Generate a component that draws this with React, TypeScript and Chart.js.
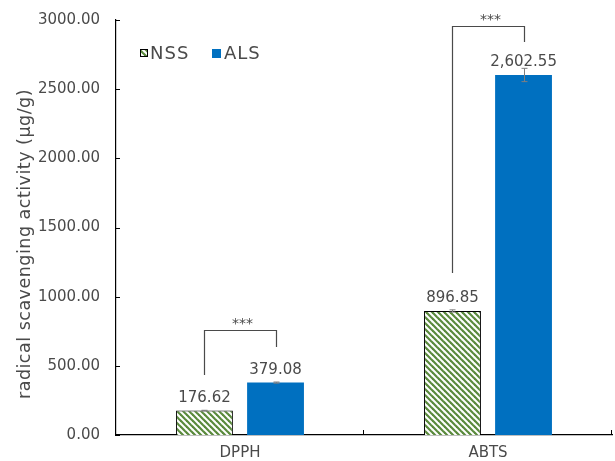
import React, { useEffect, useRef } from "react";
import { Chart, registerables } from "chart.js";

Chart.register(...registerables);

// Assay categories and series
const categories = ["DPPH", "ABTS"];
const nssValues = [176.62, 896.85];
const alsValues = [379.08, 2602.55];
const nssErrors = [2, 8];
const alsErrors = [4, 48];

// Y axis ticks
const yTicks = [0, 500, 1000, 1500, 2000, 2500, 3000];

// Significance brackets: [leftLegBottom, rightLegBottom, top] in data units
const brackets = [
  { index: 0, left: 434, right: 636, top: 759, label: "***" },
  { index: 1, left: 1171, right: 2841, top: 2957, label: "***" },
];

const FONT = "'DejaVu Sans', sans-serif";
const TEXT = "#4a4a4a";
const BLUE = "#0070C0";
const GREEN = "#5A8A3C";

function makeStripePattern(): CanvasPattern | string {
  const tile = document.createElement("canvas");
  tile.width = 6;
  tile.height = 6;
  const c = tile.getContext("2d");
  if (!c) return GREEN;
  c.fillStyle = "#ffffff";
  c.fillRect(0, 0, 6, 6);
  c.strokeStyle = GREEN;
  c.lineWidth = 2.2;
  for (const k of [-6, 0, 6]) {
    c.beginPath();
    c.moveTo(k - 1, -1);
    c.lineTo(k + 7, 7);
    c.stroke();
  }
  const p = c.createPattern(tile, "repeat");
  return p ?? GREEN;
}

const annotations = {
  id: "annotations",
  afterDatasetsDraw(chart: any) {
    const ctx: any = chart.ctx;
    const x = chart.scales.x;
    const y = chart.scales.y;
    const area = chart.chartArea;
    const nssMeta = chart.getDatasetMeta(0);
    const alsMeta = chart.getDatasetMeta(1);

    ctx.save();

    // inner tick marks on the axes
    ctx.strokeStyle = "#000";
    ctx.lineWidth = 1;
    for (const v of yTicks) {
      const py = Math.round(y.getPixelForValue(v)) + 0.5;
      ctx.beginPath();
      ctx.moveTo(area.left, py);
      ctx.lineTo(area.left + 4, py);
      ctx.stroke();
    }
    for (const v of [0.5, 1.5]) {
      const px = Math.round(x.getPixelForValue(v)) - 0.5;
      ctx.beginPath();
      ctx.moveTo(px, area.bottom);
      ctx.lineTo(px, area.bottom - 5);
      ctx.stroke();
    }

    // error bars
    ctx.strokeStyle = "#7f7f7f";
    ctx.lineWidth = 1;
    const drawErr = (meta: any, vals: number[], errs: number[]) => {
      meta.data.forEach((bar: any, i: number) => {
        const px = Math.round(bar.x) + 0.5;
        const hi = y.getPixelForValue(vals[i] + errs[i]);
        const lo = y.getPixelForValue(vals[i] - errs[i]);
        ctx.beginPath();
        ctx.moveTo(px, hi);
        ctx.lineTo(px, lo);
        ctx.moveTo(px - 3, hi);
        ctx.lineTo(px + 3, hi);
        ctx.moveTo(px - 3, lo);
        ctx.lineTo(px + 3, lo);
        ctx.stroke();
      });
    };
    drawErr(nssMeta, nssValues, nssErrors);
    drawErr(alsMeta, alsValues, alsErrors);

    // value labels
    ctx.fillStyle = TEXT;
    ctx.font = `15px ${FONT}`;
    ctx.textAlign = "center";
    ctx.textBaseline = "alphabetic";
    const fmt = (v: number) =>
      v.toLocaleString("en-US", { minimumFractionDigits: 2, maximumFractionDigits: 2 });
    const drawLabels = (meta: any, vals: number[]) => {
      meta.data.forEach((bar: any, i: number) => {
        ctx.fillText(fmt(vals[i]), bar.x, y.getPixelForValue(vals[i]) - 9);
      });
    };
    drawLabels(nssMeta, nssValues);
    drawLabels(alsMeta, alsValues);

    // significance brackets
    ctx.strokeStyle = TEXT;
    ctx.lineWidth = 1.2;
    for (const b of brackets) {
      const lx = Math.round(nssMeta.data[b.index].x) + 0.5;
      const rx = Math.round(alsMeta.data[b.index].x) + 0.5;
      const ty = Math.round(y.getPixelForValue(b.top)) + 0.5;
      ctx.beginPath();
      ctx.moveTo(lx, y.getPixelForValue(b.left));
      ctx.lineTo(lx, ty);
      ctx.lineTo(rx, ty);
      ctx.lineTo(rx, y.getPixelForValue(b.right));
      ctx.stroke();
      ctx.font = `14px ${FONT}`;
      ctx.fillStyle = TEXT;
      ctx.fillText(b.label, (lx + rx) / 2 + 2, ty - 3);
    }

    // legend
    ctx.textAlign = "left";
    ctx.textBaseline = "middle";
    ctx.font = `18px ${FONT}`;
    ctx.letterSpacing = "1px";
    ctx.fillStyle = chart.data.datasets[0].backgroundColor;
    ctx.fillRect(140, 49, 8, 8);
    ctx.strokeStyle = "#000";
    ctx.lineWidth = 1;
    ctx.strokeRect(140.5, 49.5, 7, 7);
    ctx.fillStyle = TEXT;
    ctx.fillText("NSS", 150, 54.5);
    ctx.fillStyle = BLUE;
    ctx.fillRect(212, 49, 9, 9);
    ctx.fillStyle = TEXT;
    ctx.fillText("ALS", 224, 54.5);

    // y axis title
    ctx.save();
    ctx.translate(25, 244);
    ctx.rotate(-Math.PI / 2);
    ctx.textAlign = "center";
    ctx.textBaseline = "middle";
    ctx.font = `17.5px ${FONT}`;
    ctx.letterSpacing = "0.5px";
    ctx.fillStyle = TEXT;
    ctx.fillText("radical scavenging activity (μg/g)", 0, 0);
    ctx.restore();

    ctx.letterSpacing = "0px";
    ctx.restore();
  },
};

export default function App() {
  const canvasRef = useRef<HTMLCanvasElement | null>(null);

  useEffect(() => {
    if (!canvasRef.current) return;
    const chart = new Chart(canvasRef.current, {
      type: "bar",
      data: {
        labels: categories,
        datasets: [
          {
            label: "NSS",
            data: nssValues,
            backgroundColor: makeStripePattern() as any,
            borderColor: "#000",
            borderWidth: 1,
            categoryPercentage: 0.573,
            barPercentage: 0.8,
          },
          {
            label: "ALS",
            data: alsValues,
            backgroundColor: BLUE,
            borderWidth: 0,
            categoryPercentage: 0.573,
            barPercentage: 0.8,
          },
        ],
      },
      options: {
        animation: false,
        responsive: true,
        maintainAspectRatio: false,
        layout: { padding: { top: 20, right: 3, left: 0, bottom: 0 } },
        plugins: {
          legend: { display: false },
          tooltip: { enabled: false },
        },
        scales: {
          x: {
            grid: { display: false, drawTicks: false },
            border: { display: true, color: "#000", width: 1.2 },
            ticks: { color: TEXT, font: { family: FONT, size: 15 }, padding: 9 },
            afterFit(scale: any) {
              scale.height = 26;
            },
          },
          y: {
            min: 0,
            max: 3000,
            grid: { display: false, drawTicks: false },
            border: { display: true, color: "#000", width: 1.2 },
            ticks: {
              stepSize: 500,
              color: TEXT,
              font: { family: FONT, size: 15, lineHeight: 0.5 },
              padding: 16,
              callback: (v: any) => Number(v).toFixed(2),
            },
            afterFit(scale: any) {
              scale.width = 116;
            },
          },
        },
      },
      plugins: [annotations],
    });
    return () => chart.destroy();
  }, []);

  return (
    <div style={{ position: "fixed", left: 0, top: 0, width: 615, height: 461, background: "#fff" }}>
      <canvas ref={canvasRef} />
    </div>
  );
}
